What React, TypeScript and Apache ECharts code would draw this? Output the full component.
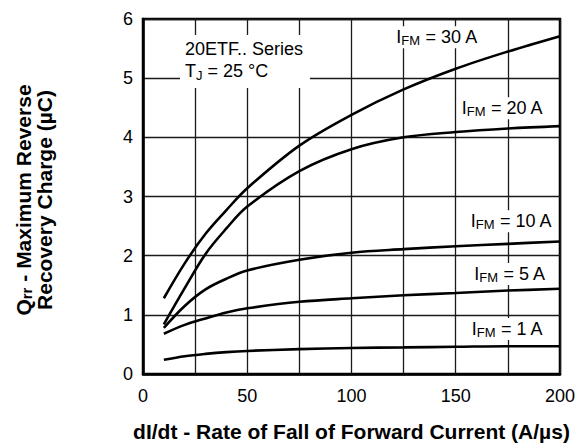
import React, { useEffect, useRef } from "react";
import * as echarts from "echarts";

const rates = [10, 20, 30, 40, 50, 75, 100, 125, 150, 175, 200];
const q30A = [1.28, 1.87, 2.37, 2.77, 3.14, 3.86, 4.38, 4.81, 5.16, 5.45, 5.71];
const q20A = [0.84, 1.45, 2.03, 2.46, 2.83, 3.43, 3.8, 4.0, 4.09, 4.15, 4.19];
const q10A = [0.78, 1.15, 1.43, 1.61, 1.75, 1.93, 2.05, 2.11, 2.16, 2.2, 2.24];
const q5A = [0.68, 0.83, 0.94, 1.04, 1.11, 1.22, 1.28, 1.33, 1.37, 1.41, 1.44];
const q1A = [0.24, 0.3, 0.34, 0.37, 0.39, 0.42, 0.44, 0.45, 0.46, 0.47, 0.47];

const seriesNames = ["30 A", "20 A", "10 A", "5 A", "1 A"];
const seriesValues = [q30A, q20A, q10A, q5A, q1A];
// label anchor (data coords) for each curve's annotation
const labelAt = [
  [141, 5.69],
  [172.4, 4.49],
  [176.7, 2.58],
  [176, 1.69],
  [174.8, 0.76],
];

const xTicks = [0, 50, 100, 150, 200];
const FONT = "'Liberation Sans', Arial, Helvetica, sans-serif";

export default function App() {
  const ref = useRef<HTMLDivElement>(null);
  useEffect(() => {
    const chart = echarts.init(ref.current!, null, { renderer: "svg" });
    const labelRich = {
      m: { fontSize: 18, lineHeight: 20, fontFamily: FONT, color: "#000" },
      s: { fontSize: 13, lineHeight: 10, verticalAlign: "bottom", fontFamily: FONT, color: "#000" },
    };
    const series = seriesNames.map((name, i) => ({
      type: "line",
      name,
      data: rates.map((r, k) => [r, seriesValues[i][k]]),
      smooth: 0.35,
      showSymbol: false,
      symbol: "none",
      lineStyle: { color: "#000", width: 2.6 },
      z: 3,
      markPoint: {
        symbol: "rect",
        symbolSize: 1,
        itemStyle: { color: "rgba(0,0,0,0)" },
        z: 4,
        data: [
          {
            coord: labelAt[i],
            label: {
              show: true,
              position: "inside",
              formatter: `{m|I}{s|FM}{m| = ${name}}`,
              rich: labelRich,
              backgroundColor: "#fff",
              padding: [1, 3, 1, 3],
            },
          },
        ],
      },
    }));

    chart.setOption({
      animation: false,
      backgroundColor: "#fff",
      textStyle: { fontFamily: FONT },
      grid: {
        left: 143,
        right: 18,
        top: 19,
        bottom: 71,
        show: true,
        borderColor: "#000",
        borderWidth: 2.5,
        containLabel: false,
      },
      xAxis: {
        type: "value",
        min: 0,
        max: 200,
        interval: 25,
        name: "dI/dt - Rate of Fall of Forward Current (A/µs)",
        nameLocation: "middle",
        nameGap: 47,
        nameTextStyle: { fontSize: 21, fontWeight: "bold", color: "#000", fontFamily: FONT },
        axisLine: { show: true, lineStyle: { color: "#000", width: 2.5 } },
        axisTick: { show: false },
        splitLine: { show: true, lineStyle: { color: "#1a1a1a", width: 1.3 } },
        axisLabel: {
          fontSize: 18,
          color: "#000",
          margin: 13,
          fontFamily: FONT,
          formatter: (v: number) => (xTicks.includes(v) ? String(v) : ""),
        },
      },
      yAxis: {
        type: "value",
        min: 0,
        max: 6,
        interval: 1,
        axisLine: { show: true, lineStyle: { color: "#000", width: 2.5 } },
        axisTick: { show: false },
        splitLine: { show: true, lineStyle: { color: "#1a1a1a", width: 1.3 } },
        axisLabel: { fontSize: 18, color: "#000", margin: 10, fontFamily: FONT },
      },
      graphic: [
        {
          type: "text",
          left: 180,
          top: 35,
          z: 10,
          style: {
            text: "{m|20ETF.. Series}\n{m|T}{s|J}{m| = 25 °C}",
            rich: {
              m: { fontSize: 18, lineHeight: 22, fontFamily: FONT, fill: "#000" },
              s: { fontSize: 13, lineHeight: 11, verticalAlign: "bottom", fontFamily: FONT, fill: "#000" },
            },
            backgroundColor: "#fff",
            padding: [3, 5, 6, 5],
            width: 120,
          },
        },
        {
          type: "text",
          x: 34,
          y: 200,
          rotation: Math.PI / 2,
          z: 10,
          style: {
            text: "{b|Q}{bs|rr}{b| - Maximum Reverse}\n{b|Recovery Charge (µC)}",
            align: "center",
            verticalAlign: "middle",
            rich: {
              b: { fontSize: 21, fontWeight: "bold", lineHeight: 21, fontFamily: FONT, fill: "#000", align: "center" },
              bs: { fontSize: 15, fontWeight: "bold", lineHeight: 11, verticalAlign: "bottom", fontFamily: FONT, fill: "#000" },
            },
          },
        },
      ],
      series,
    });
    return () => chart.dispose();
  }, []);
  return (
    <div
      ref={ref}
      style={{ position: "fixed", left: 0, top: 0, width: 578, height: 447, background: "#fff" }}
    />
  );
}
